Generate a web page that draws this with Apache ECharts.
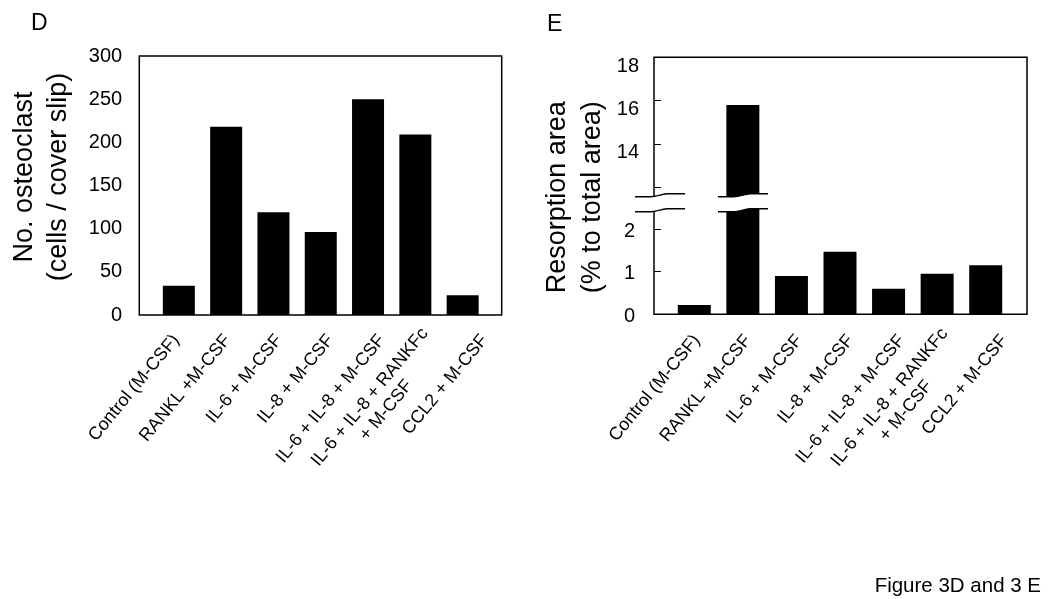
<!DOCTYPE html>
<html>
<head>
<meta charset="utf-8">
<script src="https://cdn.jsdelivr.net/npm/echarts@6/dist/echarts.min.js"></script>
<style>
html,body{margin:0;padding:0;background:#fff;}
#chart{width:1050px;height:599px;}
</style>
</head>
<body>
<div id="chart"></div>
<script>
// ---- data ----
const categories = [
  'Control (M-CSF)',
  'RANKL +M-CSF',
  'IL-6 + M-CSF',
  'IL-8 + M-CSF',
  'IL-6 + IL-8 + M-CSF',
  'IL-6 + IL-8 + RANKFc\n+ M-CSF',
  'CCL2 + M-CSF'
];
const osteoclastCounts = [34, 218, 119, 96, 250, 209, 23];
const resorptionArea = [0.22, 15.8, 0.90, 1.47, 0.60, 0.95, 1.15];
const countTicks = [0, 50, 100, 150, 200, 250, 300];
const areaLowerTicks = [0, 1, 2];
const areaUpperTicks = [12, 14, 16, 18];
const areaUpperLabels = [14, 16, 18];

// ---- style / layout ----
const FONT = 'Liberation Sans, Arial, sans-serif';
const BLACK = '#000';

const chart = echarts.init(document.getElementById('chart'), null, {renderer: 'canvas'});

function richLabel(v) {
  return v.split('\n').map(l => '{c|' + l + '}').join('\n');
}
function xLabelStyle(margin) {
  return {
    interval: 0,
    rotate: 50.5,
    margin: margin,
    formatter: richLabel,
    rich: { c: { align: 'center', fontSize: 18, fontFamily: FONT, color: BLACK, lineHeight: 21 } }
  };
}

// break mark geometry (decoration)
function waveLine(x0, x1, y0) {
  const pts = [];
  const n = 20;
  for (let i = 0; i <= n; i++) {
    const t = i / n;
    let s = (t - 0.3) / 0.38;
    s = Math.max(0, Math.min(1, s));
    s = s * s * (3 - 2 * s);
    pts.push([x0 + (x1 - x0) * t, y0 - 3 * s]);
  }
  return pts;
}
function breakMark(x0, x1, yTop, gap) {
  const up = waveLine(x0, x1, yTop);
  const lo = waveLine(x0, x1, yTop + gap);
  return [
    { type: 'polygon', z: 100, shape: { points: up.concat(lo.slice().reverse()) }, style: { fill: '#fff', stroke: null } },
    { type: 'polyline', z: 101, shape: { points: up }, style: { stroke: BLACK, lineWidth: 1.4, fill: null } },
    { type: 'polyline', z: 101, shape: { points: lo }, style: { stroke: BLACK, lineWidth: 1.4, fill: null } }
  ];
}

const hiddenValue = (gi) => ({ type: 'value', gridIndex: gi, show: false });
const G = { outerBoundsMode: 'none', containLabel: false };

const option = {
  animation: false,
  backgroundColor: '#fff',
  grid: [
    Object.assign({ left: 139.3, top: 56, width: 362.4, height: 259, show: true, borderColor: BLACK, borderWidth: 1.5 }, G),
    Object.assign({ left: 155.2, top: 56, width: 331.1, height: 259 }, G),
    Object.assign({ left: 654, top: 57.3, width: 373, height: 257, show: true, borderColor: BLACK, borderWidth: 1.5 }, G),
    Object.assign({ left: 670, top: 57.3, width: 340, height: 140.7 }, G),
    Object.assign({ left: 670, top: 207.8, width: 340, height: 106.5 }, G),
    // label rows
    Object.assign({ left: 150.4, top: 56, width: 359.8, height: 259 }, G),
    Object.assign({ left: 671, top: 207.8, width: 358.7, height: 106.5 }, G)
  ],
  xAxis: [
    hiddenValue(0),
    { type: 'category', gridIndex: 1, data: categories, axisLine: { show: false }, axisTick: { show: false }, axisLabel: { show: false } },
    hiddenValue(2),
    { type: 'category', gridIndex: 3, data: categories, show: false },
    { type: 'category', gridIndex: 4, data: categories, axisLine: { show: false }, axisTick: { show: false }, axisLabel: { show: false } },
    { type: 'category', gridIndex: 5, data: categories, axisLine: { show: false }, axisTick: { show: false }, axisLabel: xLabelStyle(22) },
    { type: 'category', gridIndex: 6, data: categories, axisLine: { show: false }, axisTick: { show: false }, axisLabel: xLabelStyle(23) }
  ],
  yAxis: [
    hiddenValue(0),
    {
      type: 'value', gridIndex: 1, min: 0, max: 300, interval: 50, offset: 16,
      axisLine: { show: false }, axisTick: { show: false }, splitLine: { show: false },
      axisLabel: { customValues: countTicks, margin: 17, fontSize: 20, fontFamily: FONT, color: BLACK },
      name: 'No. osteoclast\n(cells / cover slip)', nameLocation: 'middle', nameRotate: 90, nameGap: 64,
      nameTextStyle: { fontSize: 27, fontFamily: FONT, color: BLACK, lineHeight: 34, align: 'center', padding: [0, 0, 0, 17] }
    },
    {
      type: 'value', gridIndex: 2, min: 0, max: 1,
      axisLine: { show: false }, axisTick: { show: false }, axisLabel: { show: false }, splitLine: { show: false },
      name: 'Resorption area\n(% to total area)', nameLocation: 'middle', nameRotate: 90, nameGap: 44,
      nameTextStyle: { fontSize: 27, fontFamily: FONT, color: BLACK, lineHeight: 35, align: 'center', padding: [0, 23, 0, 0] }
    },
    {
      type: 'value', gridIndex: 3, min: 11.5, max: 18, offset: 16,
      axisLine: { show: false }, splitLine: { show: false },
      axisTick: { show: true, inside: true, length: 7, customValues: areaUpperTicks, lineStyle: { color: BLACK, width: 1 } },
      axisLabel: { customValues: areaUpperLabels, margin: 15, fontSize: 20, fontFamily: FONT, color: BLACK, verticalAlign: 'top', lineHeight: 18 }
    },
    {
      type: 'value', gridIndex: 4, min: 0, max: 2.5, offset: 16,
      axisLine: { show: false }, splitLine: { show: false },
      axisTick: { show: true, inside: true, length: 7, customValues: [1, 2], lineStyle: { color: BLACK, width: 1 } },
      axisLabel: { customValues: areaLowerTicks, margin: 19, fontSize: 20, fontFamily: FONT, color: BLACK, verticalAlign: 'top', lineHeight: 22, padding: [-9, 0, 0, 0] }
    },
    hiddenValue(5),
    hiddenValue(6)
  ],
  series: [
    { type: 'bar', xAxisIndex: 1, yAxisIndex: 1, data: osteoclastCounts, barWidth: 32, itemStyle: { color: BLACK }, silent: true },
    { type: 'bar', xAxisIndex: 3, yAxisIndex: 3, data: resorptionArea, barWidth: 33, clip: true, itemStyle: { color: BLACK }, silent: true },
    { type: 'bar', xAxisIndex: 4, yAxisIndex: 4, data: resorptionArea, barWidth: 33, clip: true, itemStyle: { color: BLACK }, silent: true }
  ],
  graphic: [
    { type: 'text', left: 31, top: 12, style: { text: 'D', fontSize: 23, fontFamily: FONT, fill: BLACK } },
    { type: 'text', left: 547, top: 13, style: { text: 'E', fontSize: 23, fontFamily: FONT, fill: BLACK } },
    { type: 'text', right: 9, top: 576, style: { text: 'Figure 3D and 3 E', fontSize: 20.5, fontFamily: FONT, fill: BLACK } }
  ].concat(breakMark(635, 685, 196.7, 15)).concat(breakMark(718, 768, 196.7, 15))
};

chart.setOption(option);
</script>
</body>
</html>
